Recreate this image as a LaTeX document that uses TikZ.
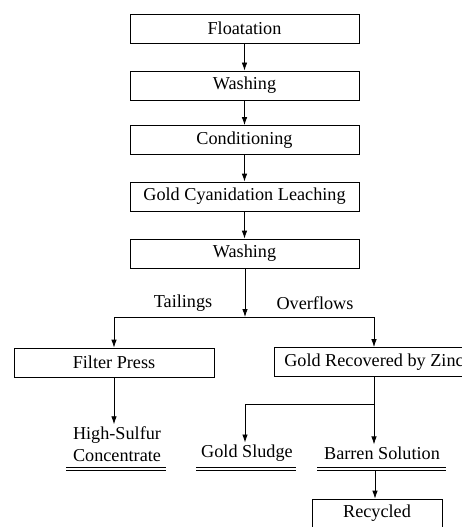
\documentclass[tikz,border=0pt]{standalone}
\usepackage{fontspec}
\setmainfont{Liberation Serif}
\usetikzlibrary{arrows.meta}
\begin{document}
\begin{tikzpicture}[x=1pt,y=-1pt,
  txt/.style={font=\fontsize{18.2}{22}\selectfont},
  box/.style={txt, draw, line width=0.8pt, minimum height=29pt, inner sep=0pt},
  lbl/.style={txt, inner sep=0pt, align=center},
  arr/.style={-{Latex[length=8pt,width=5.5pt]}, line width=0.8pt},
  ln/.style={line width=0.8pt}]
\useasboundingbox (0,0) rectangle (462,527);
\clip (0,0) rectangle (462,527);
% main column
\node[box, minimum width=229pt] (flo) at (244.5,28.5) {Floatation};
\node[box, minimum width=229pt] (wa1) at (244.5,85.5) {Washing};
\node[box, minimum width=229pt] (con) at (244.5,140) {Conditioning};
\node[box, minimum width=229pt] (leach) at (244.5,196.5) {Gold Cyanidation Leaching};
\node[box, minimum width=229pt] (wa2) at (244.5,253.5) {Washing};
\coordinate (split) at (245,317);
\node[lbl] (tail) at (183,303) {Tailings};
\node[lbl] (over) at (315,303) {Overflows};
% branches
\node[box, minimum width=200pt] (fp) at (114,362.5) {Filter Press};
\node[box, minimum width=200pt] (gr) at (374,362) {Gold Recovered by Zinc};
\node[lbl] (hs) at (117,444) {High-Sulfur\\Concentrate};
\coordinate (jn) at (374,404);
\coordinate (jl) at (245,404);
\node[lbl] (gs) at (247,453) {Gold Sludge};
\node[lbl] (bs) at (382,453) {Barren Solution};
\coordinate (bsu) at (375,470);
\node[box, minimum width=130pt] (rec) at (377,513.5) {Recycled};
% connectors
\draw[arr] (flo) -- (wa1);
\draw[arr] (wa1) -- (con);
\draw[arr] (con) -- (leach);
\draw[arr] (leach) -- (wa2);
\draw[arr] (wa2.south -| split) -- (split);
\draw[arr] (split) -| (fp.north);
\draw[arr] (split) -| (gr.north);
\draw[arr] (fp.south) -- ([yshift=2pt]fp.south |- hs.north);
\draw[ln] (gr.south) -- (jn);
\draw[ln] (jn) -- (jl);
\draw[arr] (jl) -- ([yshift=2pt]jl |- gs.north);
\draw[arr] (jn) -- ([yshift=2pt]jn |- bs.north);
\draw[arr] (bsu) -- (bsu |- rec.north);
% double underlines
\draw[ln] (66,467) -- (166,467) (66,470) -- (166,470);
\draw[ln] (196,467) -- (296,467) (196,470) -- (296,470);
\draw[ln] (317,467) -- (446,467) (317,470) -- (446,470);
\end{tikzpicture}
\end{document}
